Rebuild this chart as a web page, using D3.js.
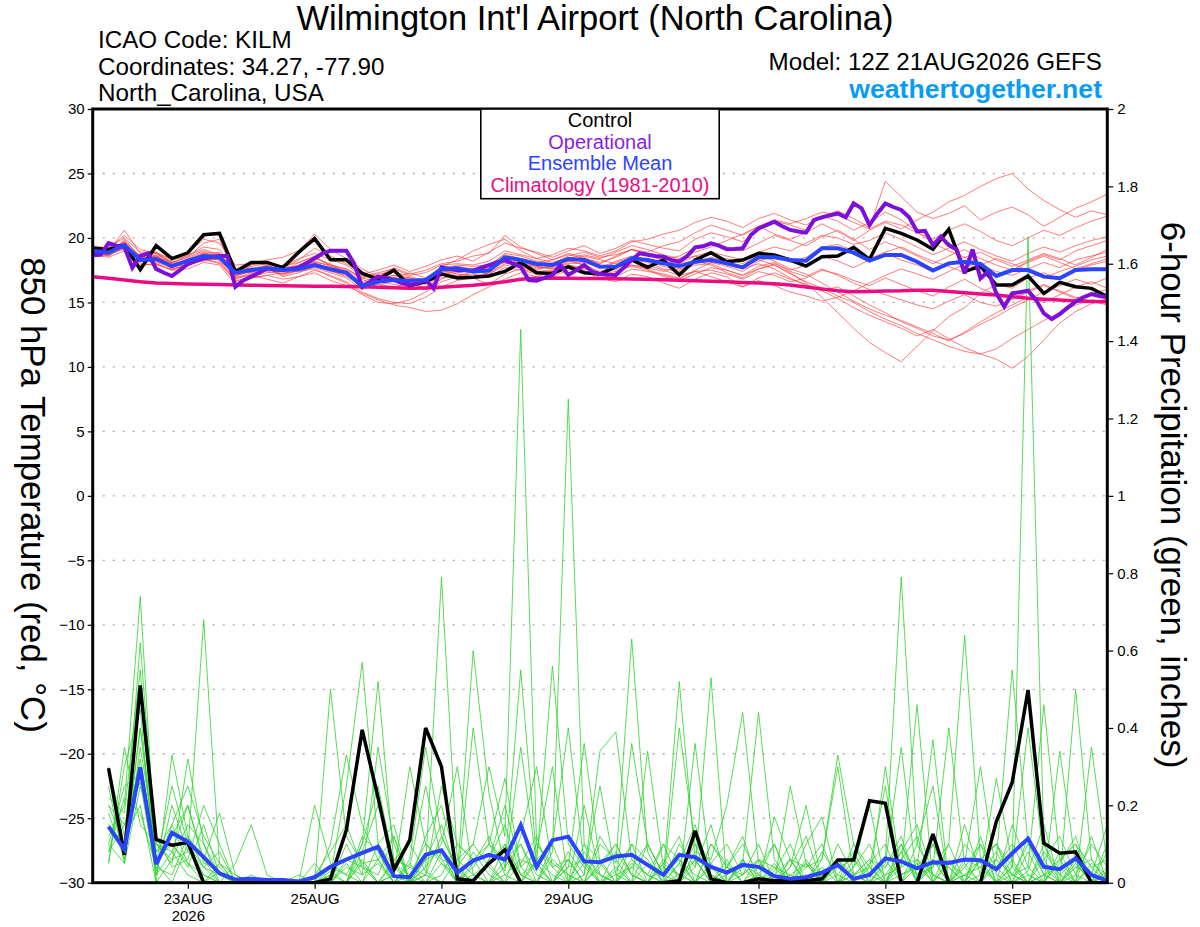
<!DOCTYPE html>
<html>
<head>
<meta charset="utf-8">
<script src="https://cdn.jsdelivr.net/npm/d3@7"></script>
<style>
    body { margin: 0; background: #fff; }
    svg { display: block; font-family: 'Liberation Sans', Arial, Helvetica, sans-serif; }
</style>
</head>
<body>
<svg id="chart" width="1200" height="927"></svg>
<script>
/**
 * Time axis: GEFS run 12Z 21AUG2026, 6-hourly steps out to 384h.
 */
const runTime = '2026-08-21T12:00:00Z',
    stepHours = 6,
    opStepHours = 3;

const tickDays = ['2026-08-23T00:00:00Z', '2026-08-25T00:00:00Z', '2026-08-27T00:00:00Z', '2026-08-29T00:00:00Z',
    '2026-09-01T00:00:00Z', '2026-09-03T00:00:00Z', '2026-09-05T00:00:00Z'];
const tickLabels = ['23AUG', '25AUG', '27AUG', '29AUG', '1SEP', '3SEP', '5SEP'];
const tempTicks = [-30, -25, -20, -15, -10, -5, 0, 5, 10, 15, 20, 25, 30];
const precipTicks = [0, 0.2, 0.4, 0.6, 0.8, 1, 1.2, 1.4, 1.6, 1.8, 2];

/**
 * 850 hPa temperature (C), steps 0..64.
 */
const controlTemp = [19.2, 19.1, 19.45, 17.55, 19.4, 18.4, 18.85, 20.25, 20.35, 17.4,
    18.1, 18.1, 17.7, 18.9, 19.95, 18.3, 18.3, 17.25, 16.8, 17.5,
    16.3, 16.6, 17.2, 16.9, 16.95, 17.05, 17.4, 18.1, 17.3, 17.25,
    17.75, 17.3, 17.2, 17.76, 18.29, 17.72, 18.29, 17.13, 18.29, 18.86,
    18.16, 18.29, 18.81, 18.68, 18.29, 17.82, 18.55, 18.6, 19.27, 18.34,
    20.74, 20.36, 19.84, 19.12, 20.67, 17.39, 17.82, 16.35, 16.35, 17.05,
    15.7, 16.56, 16.22, 16.09, 15.45];

const meanTemp = [19.0, 18.86, 19.45, 18.29, 18.37, 17.82, 18.24, 18.6, 18.5, 17.31,
    17.51, 17.65, 17.51, 17.57, 17.9, 17.57, 17.31, 16.27, 16.6, 16.74,
    16.68, 16.74, 17.57, 17.65, 17.39, 17.47, 18.5, 18.29, 17.98, 17.9,
    18.37, 18.29, 17.78, 17.77, 18.42, 18.29, 18.03, 17.82, 18.16, 18.29,
    18.03, 17.72, 18.5, 18.5, 18.29, 18.24, 19.2, 19.2, 18.86, 18.24,
    18.68, 18.68, 18.16, 17.47, 18.03, 18.16, 17.98, 17.05, 17.51, 17.51,
    17.0, 16.87, 17.51, 17.57, 17.57];

const climTemp = [17.0, 16.87, 16.74, 16.61, 16.5, 16.46, 16.43, 16.41, 16.39, 16.36,
    16.34, 16.32, 16.3, 16.28, 16.26, 16.25, 16.23, 16.22, 16.18, 16.14,
    16.1, 16.12, 16.18, 16.26, 16.33, 16.45, 16.6, 16.8, 16.88, 16.9,
    16.88, 16.86, 16.85, 16.84, 16.82, 16.8, 16.76, 16.72, 16.68, 16.64,
    16.6, 16.55, 16.5, 16.45, 16.35, 16.2, 16.05, 15.9, 15.83, 15.85,
    15.88, 15.9, 15.95, 15.95, 15.85, 15.75, 15.65, 15.58, 15.45, 15.32,
    15.25, 15.18, 15.12, 15.08, 15.05];

// Operational run is 3-hourly, steps 0..128
const operTemp = [18.68, 18.7, 19.6, 19.4, 19.3, 17.7, 18.6, 18.8, 17.6, 17.3,
    17.05, 17.5, 17.98, 18.2, 18.42, 18.5, 18.6, 18.6, 16.22, 16.7,
    17.0, 17.3, 17.65, 17.55, 17.51, 17.6, 17.72, 18.05, 18.42, 18.8,
    19.0, 19.0, 19.0, 18.0, 16.2, 16.6, 17.0, 16.9, 16.74, 16.5,
    16.35, 16.5, 16.74, 16.09, 17.72, 17.6, 17.5, 17.5, 17.46, 17.7,
    17.9, 18.1, 18.29, 18.0, 17.77, 16.74, 16.68, 16.9, 17.13, 17.9,
    17.13, 17.5, 17.9, 17.4, 17.2, 17.15, 17.13, 17.7, 18.29, 18.81,
    18.7, 18.6, 18.55, 18.3, 18.16, 18.6, 19.27, 19.35, 19.58, 19.4,
    19.12, 19.15, 19.2, 20.2, 20.74, 21.0, 21.26, 20.9, 20.62, 20.5,
    20.41, 21.4, 21.6, 21.75, 21.9, 21.6, 22.68, 22.3, 21.0, 21.9,
    22.68, 22.4, 22.17, 21.6, 20.5, 20.55, 19.45, 20.1, 19.45, 19.1,
    17.26, 19.1, 16.87, 17.4, 15.7, 14.67, 15.7, 15.8, 15.91, 15.2,
    14.15, 13.7, 14.1, 14.6, 15.06, 15.4, 15.65, 15.5, 15.4];

// Ensemble members, steps 0..64
const memberTemp = [
    [19.1, 19.0, 20.6, 18.8, 18.6, 18.1, 18.5, 19.6, 19.9, 17.0, 17.9, 18.2, 17.7, 18.3, 19.2, 18.6, 18.0, 17.2, 17.5, 17.9,
        17.4, 17.8, 18.3, 18.6, 18.2, 18.9, 19.6, 19.2, 18.9, 18.5, 19.0, 19.4, 18.8, 19.2, 19.8, 19.5, 19.2, 19.0, 19.9, 20.4,
        20.1, 19.7, 20.6, 21.3, 21.0, 20.6, 21.7, 22.1, 21.5, 20.8, 24.4, 23.2, 22.0, 21.5, 21.9, 22.5, 21.4, 22.0, 22.4, 21.8,
        20.9, 21.6, 22.3, 22.8, 23.4],
    [18.7, 18.5, 19.0, 17.9, 18.0, 17.5, 17.6, 18.1, 17.9, 16.4, 16.9, 17.1, 16.8, 17.0, 17.5, 17.1, 16.6, 15.8, 15.3, 15.0,
        14.9, 15.4, 16.2, 16.7, 16.9, 16.4, 17.2, 17.6, 17.3, 17.0, 17.5, 17.8, 16.9, 16.6, 17.2, 17.0, 16.5, 16.1, 16.8, 17.3,
        17.0, 16.2, 16.9, 17.3, 16.8, 16.4, 15.9, 15.3, 14.6, 14.0, 13.5, 13.0, 12.4, 12.9, 12.2, 11.5, 11.0, 10.6, 9.9, 10.8,
        12.1, 13.4, 14.3, 14.9, 15.3],
    [19.3, 18.8, 19.8, 18.5, 18.9, 18.0, 18.7, 19.1, 18.7, 17.6, 17.3, 17.9, 17.4, 18.1, 18.6, 17.8, 17.5, 16.8, 16.2, 16.9,
        16.5, 16.0, 17.1, 17.4, 17.6, 17.1, 18.3, 17.9, 17.6, 17.8, 18.3, 17.9, 17.2, 17.7, 18.3, 18.1, 17.6, 17.4, 17.9, 18.0,
        17.5, 17.1, 17.6, 17.9, 17.3, 16.5, 15.4, 14.2, 13.0, 11.9, 11.1, 10.4, 11.6, 12.8, 13.9, 14.6, 15.7, 16.4, 16.1, 16.9,
        17.3, 16.8, 17.5, 17.9, 18.2],
    [18.6, 18.7, 19.2, 18.0, 17.9, 17.6, 17.9, 18.3, 18.1, 16.8, 17.2, 17.4, 17.2, 17.5, 17.7, 17.3, 16.9, 16.0, 16.4, 16.2,
        16.5, 16.1, 16.9, 17.1, 17.2, 17.0, 17.7, 17.5, 17.2, 17.4, 17.8, 17.6, 17.3, 17.0, 17.6, 17.4, 17.2, 16.9, 17.4, 17.5,
        17.2, 16.8, 17.4, 17.1, 16.6, 16.9, 17.5, 17.2, 16.7, 16.3, 16.9, 16.4, 15.9, 15.5, 16.2, 16.8, 16.1, 15.6, 15.2, 15.8,
        16.3, 15.9, 15.4, 15.1, 14.8],
    [19.4, 19.2, 20.2, 19.1, 18.8, 18.4, 18.8, 19.9, 19.6, 17.9, 18.0, 18.3, 18.5, 19.0, 20.3, 19.1, 18.4, 17.6, 17.0, 17.7,
        17.2, 17.5, 18.0, 18.2, 18.6, 18.8, 20.2, 19.3, 18.8, 18.3, 18.8, 18.5, 18.0, 18.6, 19.1, 18.8, 18.3, 18.6, 19.2, 19.6,
        19.3, 19.0, 19.6, 20.2, 19.8, 19.4, 20.1, 20.6, 19.9, 19.1, 19.7, 19.2, 18.6, 18.0, 18.6, 19.1, 18.4, 17.9, 17.5, 18.2,
        18.7, 18.3, 19.0, 19.4, 19.8],
    [18.9, 19.1, 19.6, 18.2, 18.2, 17.8, 17.9, 18.4, 18.3, 16.9, 17.1, 16.8, 16.5, 17.0, 17.3, 16.7, 16.3, 15.7, 15.2, 14.8,
        14.6, 14.3, 14.4, 14.9, 15.6, 16.2, 16.8, 17.3, 17.0, 17.4, 17.9, 17.5, 16.8, 17.3, 17.9, 17.6, 17.1, 16.8, 17.5, 18.1,
        18.4, 18.0, 18.7, 18.2, 17.6, 17.2, 16.5, 15.8, 15.1, 14.5, 14.0, 13.6, 13.1, 12.6, 12.0, 12.7, 13.5, 14.2, 14.8, 15.4,
        15.0, 15.6, 16.2, 16.6, 16.1],
    [19.0, 18.6, 19.3, 18.4, 18.5, 17.9, 18.3, 18.8, 18.9, 17.4, 17.7, 17.5, 17.9, 17.6, 18.1, 17.9, 17.6, 16.9, 17.2, 17.4,
        17.0, 16.7, 17.6, 17.9, 17.8, 17.9, 18.7, 18.4, 18.1, 18.3, 18.7, 18.4, 18.1, 18.5, 19.1, 18.9, 19.4, 19.7, 20.4, 21.0,
        20.6, 20.2, 20.9, 20.3, 19.9, 20.4, 21.1, 20.5, 19.8, 20.6, 21.2, 20.7, 21.4, 22.0, 22.8, 23.3, 24.0, 24.6, 25.0, 23.8,
        22.9, 22.2, 21.6, 22.1, 21.8],
    [18.8, 18.9, 19.1, 18.7, 18.3, 17.7, 18.1, 18.5, 18.7, 17.2, 17.6, 17.8, 17.6, 17.8, 18.0, 17.7, 17.4, 16.6, 17.0, 16.9,
        17.3, 16.9, 17.5, 17.2, 17.0, 17.3, 18.0, 18.2, 17.8, 17.6, 18.1, 18.6, 18.3, 18.0, 18.4, 18.2, 17.9, 18.3, 18.6, 18.1,
        17.8, 17.4, 18.2, 18.6, 18.1, 18.5, 19.3, 19.5, 19.0, 18.4, 18.9, 19.3, 18.7, 18.2, 17.8, 17.3, 17.9, 18.4, 18.0, 17.5,
        16.9, 17.4, 17.8, 18.3, 18.6],
    [19.2, 18.9, 19.7, 18.1, 18.7, 18.2, 18.0, 18.7, 18.4, 17.1, 17.4, 17.7, 17.0, 17.3, 17.8, 17.4, 17.1, 16.4, 16.7, 16.9,
        16.8, 16.5, 17.3, 17.6, 17.3, 17.6, 18.4, 18.0, 17.8, 17.6, 18.0, 18.1, 17.7, 18.2, 18.6, 18.3, 18.0, 17.6, 18.0, 18.4,
        17.9, 17.6, 18.0, 17.6, 16.9, 16.3, 15.9, 16.2, 15.5, 14.8, 14.2, 13.5, 13.0, 12.4, 12.1, 12.6, 13.3, 13.9, 14.6, 15.2,
        15.8, 16.3, 16.8, 16.4, 16.9],
    [18.5, 18.8, 19.4, 18.6, 18.1, 17.7, 18.4, 18.9, 18.2, 16.6, 17.0, 17.3, 17.5, 17.9, 18.4, 18.0, 17.2, 16.1, 16.5, 16.9,
        16.6, 16.8, 17.8, 18.3, 19.0, 19.5, 19.9, 19.0, 18.4, 18.1, 18.5, 18.2, 17.8, 17.5, 17.9, 17.7, 17.4, 17.8, 18.2, 17.9,
        17.3, 16.9, 17.6, 18.0, 17.5, 17.9, 18.6, 18.2, 17.7, 18.3, 18.8, 18.3, 17.9, 17.4, 17.9, 18.5, 17.9, 17.4, 17.1, 17.6,
        18.1, 17.7, 18.3, 18.6, 18.9],
    [18.9, 18.6, 19.5, 18.3, 18.6, 18.0, 18.2, 18.4, 18.0, 16.7, 16.9, 17.1, 17.3, 17.4, 17.6, 17.0, 16.5, 15.6, 15.0, 14.9,
        15.2, 15.8, 16.6, 17.0, 17.4, 17.7, 18.1, 17.8, 17.5, 17.9, 18.4, 18.7, 18.4, 18.9, 19.4, 19.1, 18.7, 18.4, 18.9, 19.3,
        19.8, 20.3, 20.9, 21.4, 21.1, 21.5, 22.0, 21.8, 21.2, 20.7, 21.3, 21.0, 20.4, 19.9, 20.6, 21.1, 20.5, 19.8, 19.4, 20.0,
        20.6, 20.2, 20.8, 21.3, 21.7],
    [19.0, 18.7, 19.9, 18.5, 18.4, 17.6, 17.8, 18.6, 18.8, 17.0, 17.5, 17.6, 17.1, 17.5, 17.9, 17.5, 17.0, 16.3, 16.6, 16.4,
        16.2, 16.0, 16.8, 17.3, 17.5, 17.2, 17.9, 17.7, 17.4, 17.5, 17.9, 17.7, 17.2, 17.4, 17.8, 17.5, 17.0, 16.7, 17.2, 17.7,
        17.5, 17.1, 17.8, 18.1, 17.4, 17.0, 17.6, 17.1, 16.5, 16.0, 15.6, 15.2, 14.8, 14.5, 15.1, 15.6, 15.0, 14.7, 15.3, 15.9,
        16.4, 15.8, 15.3, 15.7, 16.0],
    [19.1, 19.3, 20.0, 18.9, 18.9, 18.3, 18.6, 19.3, 19.1, 17.5, 17.8, 18.0, 17.8, 18.4, 18.8, 18.3, 17.9, 17.0, 17.3, 17.6,
        17.1, 17.3, 17.9, 18.0, 17.9, 18.2, 19.0, 18.7, 18.4, 18.7, 19.2, 19.0, 18.6, 19.0, 19.7, 19.9, 20.3, 20.6, 21.2, 21.6,
        21.3, 20.8, 21.5, 21.9, 21.4, 21.0, 21.7, 21.3, 20.6, 21.2, 22.0, 21.4, 20.5, 19.6, 19.0, 18.5, 18.9, 18.3, 17.8, 18.3,
        18.8, 18.4, 17.9, 18.5, 19.1],
    [18.7, 18.9, 19.3, 18.4, 18.0, 17.5, 18.0, 18.2, 18.4, 16.9, 17.3, 17.5, 17.4, 17.7, 18.1, 17.6, 17.2, 16.5, 16.8, 17.1,
        16.9, 16.6, 17.4, 17.5, 17.3, 17.4, 18.2, 18.0, 17.7, 17.7, 18.2, 17.9, 17.4, 17.8, 18.2, 17.9, 17.5, 17.1, 17.4, 17.0,
        16.6, 16.2, 16.7, 16.3, 15.8, 15.5, 15.1, 15.4, 15.9, 16.5, 17.1, 17.6, 17.2, 16.8, 17.4, 18.0, 17.6, 17.1, 17.5, 18.1,
        18.6, 18.1, 17.6, 18.0, 18.4],
    [19.2, 19.0, 19.7, 18.6, 18.8, 18.1, 18.5, 19.0, 18.6, 17.3, 17.6, 17.9, 17.8, 18.1, 18.5, 17.9, 17.6, 16.9, 16.6, 16.8,
        16.4, 16.2, 17.2, 17.5, 17.4, 17.6, 18.6, 18.3, 18.0, 18.0, 18.4, 18.2, 17.6, 18.1, 18.5, 18.2, 17.8, 17.5, 18.1, 18.5,
        18.2, 17.7, 18.3, 17.9, 17.2, 16.6, 16.1, 15.5, 15.0, 14.3, 13.7, 13.2, 12.6, 12.1, 11.6, 11.2, 11.0, 11.4, 12.2, 12.9,
        13.6, 14.2, 14.8, 15.2, 15.0],
    [19.0, 18.8, 19.6, 18.2, 18.6, 17.9, 18.2, 18.8, 18.6, 17.1, 17.4, 17.6, 17.2, 17.7, 18.2, 17.8, 17.3, 16.3, 16.9, 17.1,
        16.9, 16.4, 17.6, 17.8, 17.6, 17.8, 18.8, 18.6, 18.2, 18.0, 18.6, 18.9, 18.5, 18.7, 19.1, 18.7, 18.2, 18.0, 18.6, 18.9,
        18.6, 18.3, 18.9, 19.3, 19.0, 19.6, 20.2, 20.0, 19.5, 19.8, 20.4, 19.9, 19.3, 18.7, 19.2, 19.7, 19.1, 18.6, 18.2, 18.8,
        19.3, 18.9, 19.4, 19.8, 20.1]
];

/**
 * 6-hour precipitation (inches), steps 1..64.
 */
const controlPrecip = [0.296, 0.072, 0.51, 0.112, 0.097, 0.104, 0, 0, 0, 0,
    0, 0, 0, 0, 0.01, 0.136, 0.395, 0.22, 0.033, 0.11,
    0.40, 0.30, 0.01, 0.005, 0.05, 0.085, 0, 0, 0, 0,
    0, 0, 0, 0, 0, 0, 0.005, 0.134, 0.01, 0,
    0, 0.01, 0.005, 0.005, 0.005, 0.01, 0.059, 0.059, 0.212, 0.205,
    0, 0, 0.126, 0, 0, 0, 0.158, 0.259, 0.498, 0.102,
    0.076, 0.08, 0, 0];

const meanPrecip = [0.145, 0.086, 0.298, 0.048, 0.129, 0.106, 0.066, 0.024, 0.008, 0.01,
    0.007, 0.007, 0.003, 0.014, 0.041, 0.06, 0.077, 0.093, 0.017, 0.014,
    0.072, 0.084, 0.026, 0.057, 0.072, 0.06, 0.149, 0.041, 0.11, 0.119,
    0.055, 0.053, 0.068, 0.072, 0.046, 0.02, 0.072, 0.066, 0.041, 0.026,
    0.046, 0.041, 0.017, 0.01, 0.014, 0.026, 0.046, 0.01, 0.02, 0.063,
    0.055, 0.037, 0.053, 0.051, 0.06, 0.058, 0.035, 0.076, 0.114, 0.041,
    0.035, 0.063, 0.02, 0.005];

const memberPrecip = [
    [0.12, 0.20, 0.74, 0.05, 0.00, 0.10, 0.02, 0.00, 0.00, 0.00, 0.00, 0.00, 0.00, 0.02, 0.08, 0.15,
        0.04, 0.00, 0.06, 0.10, 0.03, 0.00, 0.00, 0.05, 0.12, 0.02, 0.00, 0.05, 0.56, 0.10, 0.04, 0.00,
        0.08, 0.02, 0.00, 0.05, 0.12, 0.00, 0.00, 0.06, 0.00, 0.00, 0.03, 0.10, 0.00, 0.00, 0.05, 0.00,
        0.00, 0.00, 0.08, 0.15, 0.02, 0.00, 0.00, 0.10, 0.04, 0.00, 0.12, 0.02, 0.00, 0.50, 0.06, 0.00],
    [0.20, 0.10, 0.62, 0.08, 0.15, 0.05, 0.00, 0.03, 0.00, 0.00, 0.00, 0.00, 0.00, 0.00, 0.03, 0.00,
        0.10, 0.25, 0.05, 0.00, 0.12, 0.20, 0.04, 0.00, 0.06, 0.15, 0.02, 0.00, 0.08, 1.25, 0.10, 0.00,
        0.03, 0.10, 0.00, 0.00, 0.05, 0.15, 0.02, 0.00, 0.06, 0.00, 0.00, 0.04, 0.12, 0.00, 0.02, 0.08,
        0.00, 0.05, 0.35, 0.00, 0.04, 0.10, 0.00, 0.02, 0.08, 0.00, 0.03, 0.15, 0.00, 0.02, 0.10, 0.04],
    [0.05, 0.30, 0.45, 0.00, 0.33, 0.12, 0.04, 0.00, 0.00, 0.02, 0.00, 0.00, 0.00, 0.00, 0.00, 0.05,
        0.00, 0.06, 0.12, 0.00, 0.04, 0.10, 0.30, 0.02, 0.00, 0.04, 0.10, 0.00, 0.00, 0.06, 0.00, 0.12,
        0.05, 0.63, 0.08, 0.00, 0.02, 0.10, 0.05, 0.00, 0.00, 0.06, 0.00, 0.02, 0.05, 0.00, 0.00, 0.10,
        0.04, 0.00, 0.06, 0.12, 0.00, 0.00, 0.05, 0.30, 0.02, 0.00, 0.08, 0.00, 0.05, 0.12, 0.00, 0.03],
    [0.25, 0.05, 0.35, 0.10, 0.05, 0.32, 0.10, 0.02, 0.00, 0.00, 0.00, 0.00, 0.00, 0.05, 0.00, 0.00,
        0.06, 0.00, 0.02, 0.30, 0.10, 0.05, 0.00, 0.08, 0.02, 0.00, 0.05, 0.12, 0.00, 0.04, 0.36, 0.05,
        0.00, 0.00, 0.10, 0.02, 0.52, 0.06, 0.00, 0.04, 0.12, 0.00, 0.05, 0.00, 0.00, 0.08, 0.02, 0.00,
        0.05, 0.10, 0.00, 0.04, 0.37, 0.00, 0.02, 0.06, 0.00, 0.15, 0.04, 0.00, 0.08, 0.00, 0.35, 0.05],
    [0.08, 0.15, 0.30, 0.02, 0.20, 0.08, 0.68, 0.05, 0.00, 0.00, 0.00, 0.00, 0.00, 0.00, 0.00, 0.10,
        0.02, 0.05, 0.00, 0.06, 0.35, 0.12, 0.03, 0.00, 0.00, 0.10, 0.02, 0.05, 0.00, 0.00, 0.08, 0.02,
        0.00, 0.06, 0.02, 0.00, 0.10, 0.04, 0.53, 0.00, 0.05, 0.02, 0.00, 0.06, 0.00, 0.00, 0.10, 0.02,
        0.00, 0.04, 0.12, 0.00, 0.06, 0.00, 0.15, 0.02, 0.27, 0.05, 0.00, 0.06, 0.12, 0.02, 0.00, 0.08],
    [0.15, 0.08, 0.50, 0.05, 0.12, 0.20, 0.06, 0.18, 0.02, 0.00, 0.00, 0.00, 0.00, 0.00, 0.00, 0.00,
        0.00, 0.00, 0.05, 0.02, 0.00, 0.08, 0.00, 0.40, 0.10, 0.03, 0.35, 0.05, 0.00, 0.06, 0.00, 0.04,
        0.10, 0.02, 0.00, 0.04, 0.00, 0.08, 0.06, 0.20, 0.44, 0.05, 0.02, 0.00, 0.06, 0.00, 0.00, 0.04,
        0.10, 0.00, 0.02, 0.05, 0.00, 0.06, 0.00, 0.12, 0.00, 0.04, 0.40, 0.06, 0.00, 0.05, 0.00, 0.10],
    [0.10, 0.25, 0.28, 0.08, 0.10, 0.05, 0.02, 0.00, 0.05, 0.15, 0.02, 0.00, 0.00, 0.00, 0.00, 0.00,
        0.12, 0.08, 0.00, 0.04, 0.25, 0.06, 0.00, 0.02, 0.05, 0.00, 0.12, 0.30, 0.04, 0.00, 0.02, 0.25,
        0.02, 0.00, 0.05, 0.00, 0.40, 0.10, 0.00, 0.02, 0.05, 0.44, 0.06, 0.00, 0.02, 0.00, 0.04, 0.06,
        0.00, 0.02, 0.08, 0.00, 0.10, 0.04, 0.00, 0.06, 0.10, 0.00, 0.02, 0.00, 0.34, 0.05, 0.00, 0.02],
    [0.30, 0.12, 0.20, 0.00, 0.06, 0.15, 0.10, 0.00, 0.00, 0.00, 0.00, 0.00, 0.00, 0.20, 0.05, 0.02,
        0.00, 0.10, 0.15, 0.00, 0.02, 0.00, 0.06, 0.10, 0.04, 0.00, 0.00, 0.10, 0.05, 0.02, 0.00, 0.00,
        0.00, 0.05, 0.02, 0.10, 0.00, 0.04, 0.15, 0.00, 0.02, 0.06, 0.00, 0.25, 0.05, 0.00, 0.00, 0.02,
        0.04, 0.25, 0.00, 0.06, 0.02, 0.00, 0.10, 0.05, 0.00, 0.06, 0.00, 0.02, 0.04, 0.00, 0.12, 0.00],
    [0.18, 0.06, 0.40, 0.05, 0.25, 0.10, 0.04, 0.08, 0.00, 0.00, 0.00, 0.00, 0.02, 0.00, 0.50, 0.12,
        0.05, 0.00, 0.02, 0.00, 0.06, 0.15, 0.02, 0.00, 0.06, 0.20, 0.04, 0.00, 0.10, 0.40, 0.05, 0.00,
        0.04, 0.00, 0.00, 0.06, 0.02, 0.00, 0.10, 0.05, 0.00, 0.02, 0.10, 0.00, 0.04, 0.06, 0.33, 0.10,
        0.02, 0.06, 0.00, 0.10, 0.25, 0.00, 0.04, 0.00, 0.06, 0.02, 0.00, 0.10, 0.00, 0.04, 0.02, 0.15],
    [0.05, 0.35, 0.15, 0.10, 0.08, 0.02, 0.00, 0.05, 0.00, 0.00, 0.00, 0.00, 0.00, 0.00, 0.10, 0.33,
        0.15, 0.06, 0.00, 0.05, 0.00, 0.02, 0.10, 0.06, 0.00, 0.02, 0.06, 0.04, 0.00, 0.08, 0.02, 0.34,
        0.39, 0.06, 0.02, 0.00, 0.05, 0.00, 0.04, 0.00, 0.04, 0.00, 0.17, 0.06, 0.00, 0.02, 0.05, 0.00,
        0.00, 0.06, 0.79, 0.10, 0.02, 0.00, 0.06, 0.04, 0.00, 0.02, 0.10, 0.04, 0.00, 0.06, 0.02, 0.00],
    [0.22, 0.18, 0.55, 0.03, 0.15, 0.25, 0.12, 0.05, 0.02, 0.00, 0.00, 0.00, 0.00, 0.00, 0.02, 0.25,
        0.57, 0.10, 0.04, 0.00, 0.06, 0.08, 0.00, 0.04, 0.10, 0.06, 0.00, 0.06, 0.02, 0.00, 0.10, 0.06,
        0.00, 0.36, 0.10, 0.02, 0.00, 0.06, 0.00, 0.04, 0.10, 0.02, 0.00, 0.04, 0.20, 0.00, 0.06, 0.02,
        0.06, 0.02, 0.04, 0.46, 0.00, 0.05, 0.02, 0.00, 0.04, 0.10, 0.02, 0.00, 0.06, 0.00, 0.04, 0.06],
    [0.10, 0.05, 0.25, 0.12, 0.04, 0.06, 0.20, 0.10, 0.00, 0.00, 0.00, 0.00, 0.00, 0.00, 0.04, 0.02,
        0.10, 0.52, 0.05, 0.00, 0.02, 0.12, 0.04, 0.00, 0.05, 0.10, 0.02, 0.00, 0.06, 0.02, 0.00, 0.10,
        0.06, 0.00, 0.34, 0.04, 0.02, 0.00, 0.05, 0.10, 0.02, 0.06, 0.04, 0.00, 0.10, 0.17, 0.00, 0.04,
        0.20, 0.00, 0.10, 0.02, 0.04, 0.40, 0.05, 0.00, 0.06, 0.02, 0.00, 0.08, 0.02, 0.00, 0.05, 0.02],
    [0.15, 0.10, 0.32, 0.06, 0.10, 0.04, 0.15, 0.02, 0.00, 0.00, 0.00, 0.00, 0.00, 0.00, 0.00, 0.04,
        0.02, 0.35, 0.10, 0.00, 0.04, 0.79, 0.06, 0.02, 0.00, 0.06, 0.10, 0.02, 0.00, 0.04, 0.06, 0.00,
        0.02, 0.04, 0.00, 0.10, 0.06, 0.02, 0.00, 0.00, 0.06, 0.00, 0.02, 0.06, 0.00, 0.04, 0.00, 0.06,
        0.02, 0.00, 0.04, 0.06, 0.00, 0.10, 0.64, 0.06, 0.10, 0.04, 0.00, 0.02, 0.06, 0.10, 0.00, 0.04],
    [0.08, 0.22, 0.18, 0.04, 0.02, 0.12, 0.06, 0.00, 0.00, 0.00, 0.00, 0.00, 0.00, 0.00, 0.00, 0.06,
        0.04, 0.02, 0.12, 0.00, 0.00, 0.05, 0.02, 0.60, 0.23, 0.04, 0.55, 0.06, 0.10, 0.00, 0.05, 0.02,
        0.00, 0.10, 0.06, 0.00, 0.00, 0.36, 0.02, 0.00, 0.06, 0.00, 0.04, 0.02, 0.00, 0.06, 0.30, 0.02,
        0.00, 0.30, 0.02, 0.04, 0.10, 0.00, 0.02, 0.04, 0.06, 0.55, 0.10, 0.02, 0.00, 0.04, 0.06, 0.00],
    [0.14, 0.08, 0.40, 0.10, 0.06, 0.08, 0.04, 0.02, 0.00, 0.00, 0.00, 0.00, 0.00, 0.00, 0.02, 0.00,
        0.05, 0.06, 0.00, 0.02, 0.10, 0.06, 0.04, 0.10, 0.30, 0.12, 1.43, 0.10, 0.04, 0.06, 0.00, 0.05,
        0.10, 0.02, 0.00, 0.05, 0.02, 0.06, 0.00, 0.04, 0.00, 0.04, 0.10, 0.00, 0.05, 0.02, 0.06, 0.00,
        0.04, 0.00, 0.06, 0.02, 0.06, 0.00, 0.04, 0.10, 0.00, 0.04, 1.67, 0.10, 0.02, 0.06, 0.00, 0.02],
    [0.20, 0.15, 0.26, 0.02, 0.08, 0.20, 0.05, 0.04, 0.00, 0.00, 0.00, 0.00, 0.00, 0.00, 0.00, 0.00,
        0.08, 0.20, 0.06, 0.04, 0.02, 0.25, 0.10, 0.06, 0.10, 0.27, 0.04, 0.08, 0.30, 0.00, 0.20, 0.02,
        0.00, 0.04, 0.10, 0.02, 0.06, 0.00, 0.10, 0.04, 0.02, 0.10, 0.00, 0.06, 0.04, 0.10, 0.00, 0.02,
        0.06, 0.04, 0.10, 0.00, 0.05, 0.04, 0.00, 0.06, 0.10, 0.02, 0.04, 0.46, 0.06, 0.10, 0.04, 0.00]
];

/**
 * Visual configs.
 */
const font = "'Liberation Sans', Arial, Helvetica, sans-serif";
const colors = {
    member: '#ff3a3a',
    memberPrecip: '#2fd42f',
    control: '#000000',
    oper: '#7d0fd9',
    mean: '#2a44ff',
    clim: '#ec0c82'
};

const visWidth = 1200, visHeight = 927;
const margin = { top: 109, right: 92.7, bottom: 44.3, left: 92.7 };
const width = visWidth - margin.left - margin.right,
    height = visHeight - margin.top - margin.bottom;

/**
 * D3.
 */
const start = new Date(runTime);
const stepTime = (i, h) => new Date(start.getTime() + i * h * 3600e3);

const xScale = d3.scaleUtc()
    .domain([start, stepTime(64, stepHours)])
    .range([0, width]);
const tScale = d3.scaleLinear().domain([-30, 30]).range([height, 0]);
const pScale = d3.scaleLinear().domain([0, 2]).range([height, 0]);

const tempLine = d3.line()
    .x((d, i) => xScale(stepTime(i, stepHours)))
    .y(d => tScale(d));
const operLine = d3.line()
    .x((d, i) => xScale(stepTime(i, opStepHours)))
    .y(d => tScale(d));
// precipitation arrays start at the first 6-hour step
const precipLine = d3.line()
    .x((d, i) => xScale(stepTime(i + 1, stepHours)))
    .y(d => pScale(d));

const svg = d3.select('#chart');

/**
 * Header texts.
 */
svg.append('text')
    .attr('x', 595).attr('y', 30)
    .attr('text-anchor', 'middle')
    .attr('font-size', 34.5)
    .text("Wilmington Int'l Airport (North Carolina)");

const info = ['ICAO Code: KILM', 'Coordinates: 34.27, -77.90', 'North_Carolina, USA'];
svg.selectAll('text.info').data(info).join('text')
    .attr('class', 'info')
    .attr('x', 98)
    .attr('y', (d, i) => 48 + i * 26.5)
    .attr('font-size', 24.2)
    .text(d => d);

svg.append('text')
    .attr('x', 1102).attr('y', 70)
    .attr('text-anchor', 'end')
    .attr('font-size', 24.2)
    .text('Model: 12Z 21AUG2026 GEFS');

svg.append('text')
    .attr('x', 1102).attr('y', 98)
    .attr('text-anchor', 'end')
    .attr('font-size', 26.6)
    .attr('font-weight', 'bold')
    .attr('fill', '#0a9cf5')
    .text('weathertogether.net');

/**
 * Axis titles (both read top to bottom).
 */
svg.append('text')
    .attr('transform', 'translate(21,495) rotate(90)')
    .attr('text-anchor', 'middle')
    .attr('font-size', 34.8)
    .text('850 hPa Temperature (red, \u00B0C)');

svg.append('text')
    .attr('transform', 'translate(1161,495) rotate(90)')
    .attr('text-anchor', 'middle')
    .attr('font-size', 35)
    .text('6-hour Precipitation (green, inches)');

/**
 * Plot area.
 */
const plot = svg.append('g')
    .attr('transform', 'translate(' + margin.left + ',' + margin.top + ')');

plot.append('clipPath').attr('id', 'clip')
    .append('rect').attr('width', width).attr('height', height);

// Dotted grid on the temperature ticks
plot.append('g').attr('class', 'grid')
    .selectAll('line')
    .data(tempTicks.filter(t => t > -30 && t < 30))
    .join('line')
    .attr('x1', 0).attr('x2', width)
    .attr('y1', d => tScale(d)).attr('y2', d => tScale(d))
    .attr('stroke', '#a8a8a8')
    .attr('stroke-width', 1.3)
    .attr('stroke-dasharray', '2,8');

const lines = plot.append('g').attr('clip-path', 'url(#clip)');

lines.append('g').selectAll('path')
    .data(memberTemp).join('path')
    .attr('d', tempLine)
    .attr('fill', 'none')
    .attr('stroke', colors.member)
    .attr('stroke-opacity', 0.75)
    .attr('stroke-width', 0.9);

lines.append('g').selectAll('path')
    .data(memberPrecip).join('path')
    .attr('d', precipLine)
    .attr('fill', 'none')
    .attr('stroke', colors.memberPrecip)
    .attr('stroke-opacity', 0.9)
    .attr('stroke-width', 0.9);

const mainLines = [
    { data: climTemp, line: tempLine, color: colors.clim, w: 3.5 },
    { data: controlTemp, line: tempLine, color: colors.control, w: 3.5 },
    { data: operTemp, line: operLine, color: colors.oper, w: 4 },
    { data: meanTemp, line: tempLine, color: colors.mean, w: 4 },
    { data: controlPrecip, line: precipLine, color: colors.control, w: 3.5 },
    { data: meanPrecip, line: precipLine, color: colors.mean, w: 4 }
];

lines.append('g').selectAll('path')
    .data(mainLines).join('path')
    .attr('d', d => d.line(d.data))
    .attr('fill', 'none')
    .attr('stroke', d => d.color)
    .attr('stroke-width', d => d.w)
    .attr('stroke-linejoin', 'miter')
    .attr('stroke-miterlimit', 3);

/**
 * Axes.
 */
const leftAxis = d3.axisLeft(tScale).tickValues(tempTicks).tickSize(5).tickPadding(3);
const rightAxis = d3.axisRight(pScale).tickValues(precipTicks).tickSize(6).tickPadding(4)
    .tickFormat(d => +d.toFixed(1));
const bottomAxis = d3.axisBottom(xScale)
    .tickValues(tickDays.map(d => new Date(d)))
    .tickSize(6).tickPadding(5)
    .tickFormat((d, i) => tickLabels[i]);

function styleAxis(g) {
    g.select('.domain').remove();
    g.selectAll('.tick line').attr('stroke', '#000').attr('stroke-width', 1.2);
    g.selectAll('.tick text').attr('font-family', font).attr('font-size', 15).attr('fill', '#000');
}

plot.append('g').call(leftAxis).call(styleAxis);
plot.append('g').attr('transform', 'translate(' + width + ',0)').call(rightAxis).call(styleAxis);
const xAxisG = plot.append('g').attr('transform', 'translate(0,' + height + ')').call(bottomAxis).call(styleAxis);

// Year under the first date label
xAxisG.select('.tick text')
    .append('tspan')
    .attr('x', 0).attr('dy', '1.1em')
    .text('2026');

// Frame
plot.append('rect')
    .attr('width', width).attr('height', height)
    .attr('fill', 'none')
    .attr('stroke', '#000')
    .attr('stroke-width', 3);

/**
 * Legend.
 */
const legendItems = [
    { label: 'Control', color: colors.control },
    { label: 'Operational', color: '#8a1fe0' },
    { label: 'Ensemble Mean', color: colors.mean },
    { label: 'Climatology (1981-2010)', color: colors.clim }
];

const legend = plot.append('g')
    .attr('transform', 'translate(' + (width / 2) + ',0)');

legend.append('rect')
    .attr('x', -119.2).attr('y', 0)
    .attr('width', 238.4).attr('height', 89.7)
    .attr('fill', '#fff')
    .attr('stroke', '#000')
    .attr('stroke-width', 1.6);

legend.selectAll('text').data(legendItems).join('text')
    .attr('x', 0)
    .attr('y', (d, i) => 18 + i * 21.6)
    .attr('text-anchor', 'middle')
    .attr('font-size', 20)
    .attr('fill', d => d.color)
    .text(d => d.label);
</script>
</body>
</html>
